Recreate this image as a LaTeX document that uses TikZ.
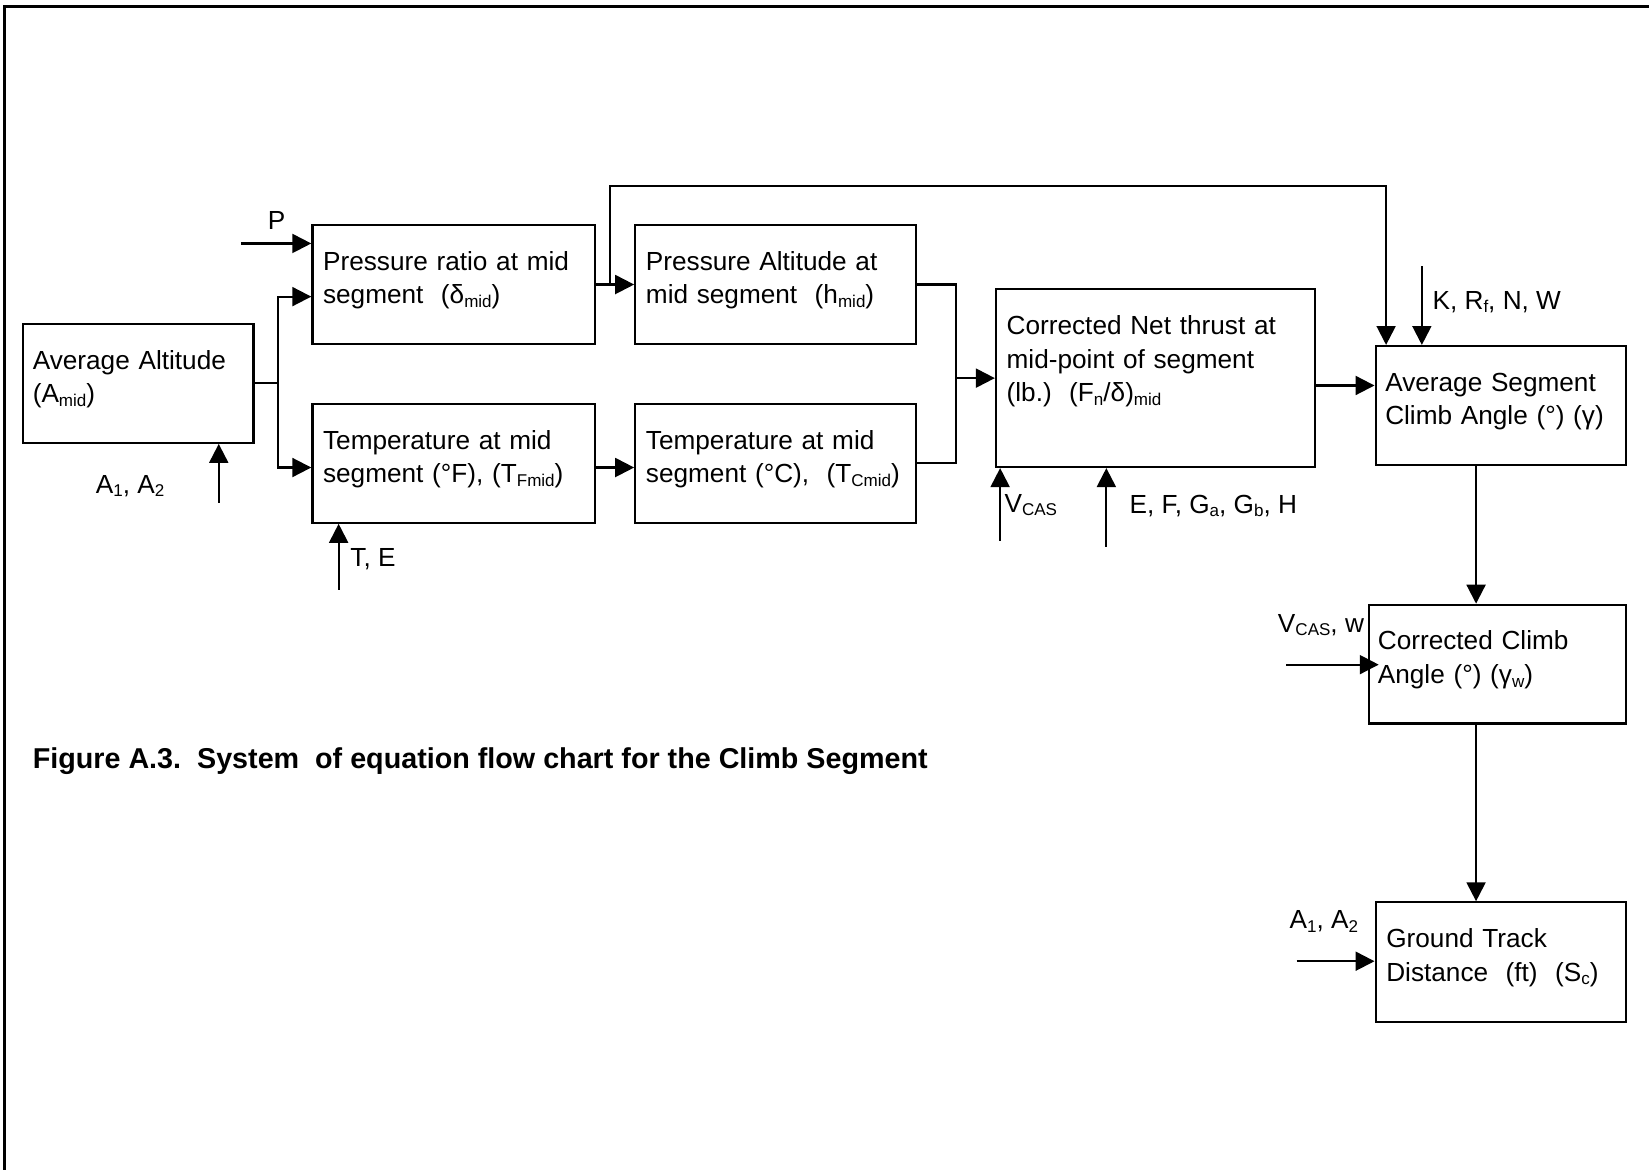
\documentclass[tikz,border=0pt]{standalone}
\usepackage{fontspec}
\setmainfont{Liberation Sans}
\usetikzlibrary{arrows.meta,calc}
\frenchspacing
\newcommand\bodysize{\fontsize{24.9}{32}\selectfont}
\newcommand\captionsize{\fontsize{27.3}{32}\selectfont\bfseries}
\newcommand\sub[1]{\raisebox{-0.14em}{\fontsize{16.2}{16.2}\selectfont #1}}
\begin{document}
\begin{tikzpicture}[x=1pt,y=-1pt,
  box/.style={draw, line width=2.1pt, anchor=north west, inner sep=0pt},
  boxtext/.style={anchor=base west, inner sep=0pt, text width=#1, align=left, font=\bodysize},
  boxtext/.default=320pt,
  lbl/.style={anchor=base west, inner sep=0pt, font=\bodysize},
  wire/.style={line width=2pt},
  arr/.style={wire, -{Triangle[length=18pt,width=18pt]}},
  frameline/.style={line width=2.4pt}]
\useasboundingbox (0,0) rectangle (1568,1112.5);

% page frame (top and left edges)
\draw[frameline] (1568,6) -- (4.5,6) -- (4.5,1112.5);

% boxes
\node[box, minimum width=219, minimum height=113] (avg) at (21,307) {};
\node[box, minimum width=269, minimum height=113] (pr)  at (296,213) {};
\node[box, minimum width=269, minimum height=113] (tf)  at (296,383) {};
\node[box, minimum width=267, minimum height=113] (pa)  at (603,213) {};
\node[box, minimum width=267, minimum height=113] (tc)  at (603,383) {};
\node[box, minimum width=303, minimum height=169] (th)  at (946,274) {};
\node[box, minimum width=238, minimum height=113] (ac)  at (1307,328) {};
\node[box, minimum width=244, minimum height=113] (cc)  at (1301,574) {};
\node[box, minimum width=238, minimum height=114] (gt)  at (1307,857) {};

% box texts
\node[boxtext] (avgt) at ($(avg.north west)+(10,44)$) {Average Altitude\\(A\sub{mid})};
\node[boxtext] (prt)  at ($(pr.north west)+(11,44)$)  {Pressure ratio at mid\\segment~~(δ\sub{mid})};
\node[boxtext] (tft)  at ($(tf.north west)+(11,44)$)  {Temperature at mid\\segment (°F), (T\sub{Fmid})};
\node[boxtext] (pat)  at ($(pa.north west)+(11,44)$)  {Pressure Altitude at\\mid segment~~(h\sub{mid})};
\node[boxtext] (tct)  at ($(tc.north west)+(11,44)$)  {Temperature at mid\\segment (°C),~~(T\sub{Cmid})};
\node[boxtext] (tht)  at ($(th.north west)+(11,44)$)  {Corrected Net thrust at\\mid-point of segment\\(lb.)~~(F\sub{n}/δ)\sub{mid}};
\node[boxtext] (act)  at ($(ac.north west)+(10,44)$)  {Average Segment\\Climb Angle (°) (γ)};
\node[boxtext] (cct)  at ($(cc.north west)+(9,44)$)   {Corrected Climb\\Angle (°) (γ\sub{w})};
\node[boxtext] (gtt)  at ($(gt.north west)+(11,44)$)  {Ground Track\\Distance~~(ft)~~(S\sub{c})};

% input labels
\node[lbl, anchor=base] (plbl) at (263,218) {P};
\node[lbl] (a1lbl) at (91,469) {A\sub{1}, A\sub{2}};
\node[lbl] (telbl) at (333,539) {T, E};
\node[lbl] (vlbl)  at (955,487) {V\sub{CAS}};
\node[lbl] (eflbl) at (1074,488) {E, F, G\sub{a}, G\sub{b}, H};
\node[lbl] (klbl)  at (1362,294) {K, R\sub{f}, N, W};
\node[lbl] (vwlbl) at (1215,601) {V\sub{CAS}, w};
\node[lbl] (a2lbl) at (1226,883) {A\sub{1}, A\sub{2}};

% caption
\node[lbl, font=\captionsize] (cap) at (31,731)
  {Figure A.3.\ \ System\ \ of equation flow chart for the Climb Segment};

% free ends of the input arrows
\coordinate (pin)  at (229,231.5);
\coordinate (a1in) at (208,478);
\coordinate (tein) at (322,561);
\coordinate (vin)  at (951,514);
\coordinate (efin) at (1052,520);
\coordinate (kin)  at (1352,253);
\coordinate (vwin) at (1223,632);
\coordinate (a2in) at (1233,914);

% inputs
\draw[arr] (pin) -- (pin -| pr.west);
\draw[arr] (a1in) -- (a1in |- avg.south);
\draw[arr] (tein) -- (tein |- tf.south);
\draw[arr] (vin) -- (vin |- th.south);
\draw[arr] (efin) -- (efin |- th.south);
\draw[arr] (kin) -- (kin |- ac.north);
\draw[arr] (vwin) -- ([xshift=10pt]vwin -| cc.west);
\draw[arr] (a2in) -- (a2in -| gt.west);

% average altitude splits to pressure ratio and temperature
\draw[arr] (avg.east) -- ++(22,0) coordinate (j1) |- ([yshift=-11.5pt]pr.west);
\draw[arr] (j1) |- ([yshift=-4pt]tf.west);

% pressure ratio to pressure altitude, and bypass to climb angle
\draw[arr] (pr.east) -- (pa.west);
\draw[arr] (pr.east) ++(13,0) -- ++(0,-93.5) -| ([xshift=11pt]ac.north west);

% temperature conversion
\draw[arr] ([yshift=-4pt]tf.east) -- ([yshift=-4pt]tc.west);

% pressure altitude and temperature merge into thrust
\draw[wire] (pa.east) -- ++(37,0) coordinate (j2) -- (j2 |- tc.east) -- (tc.east);
\draw[arr] (j2 |- th.west) -- (th.west);

% thrust to climb angle, then down the chain
\draw[arr] ([yshift=-7pt]th.east) -- ([yshift=-7pt]th.east -| ac.west);
\draw[arr] ([xshift=-23.5pt]ac.south) -- ([xshift=-23.5pt]ac.south |- cc.north);
\draw[arr] ([xshift=-20.5pt]cc.south) -- ([xshift=-20.5pt]cc.south |- gt.north);
\end{tikzpicture}
\end{document}
